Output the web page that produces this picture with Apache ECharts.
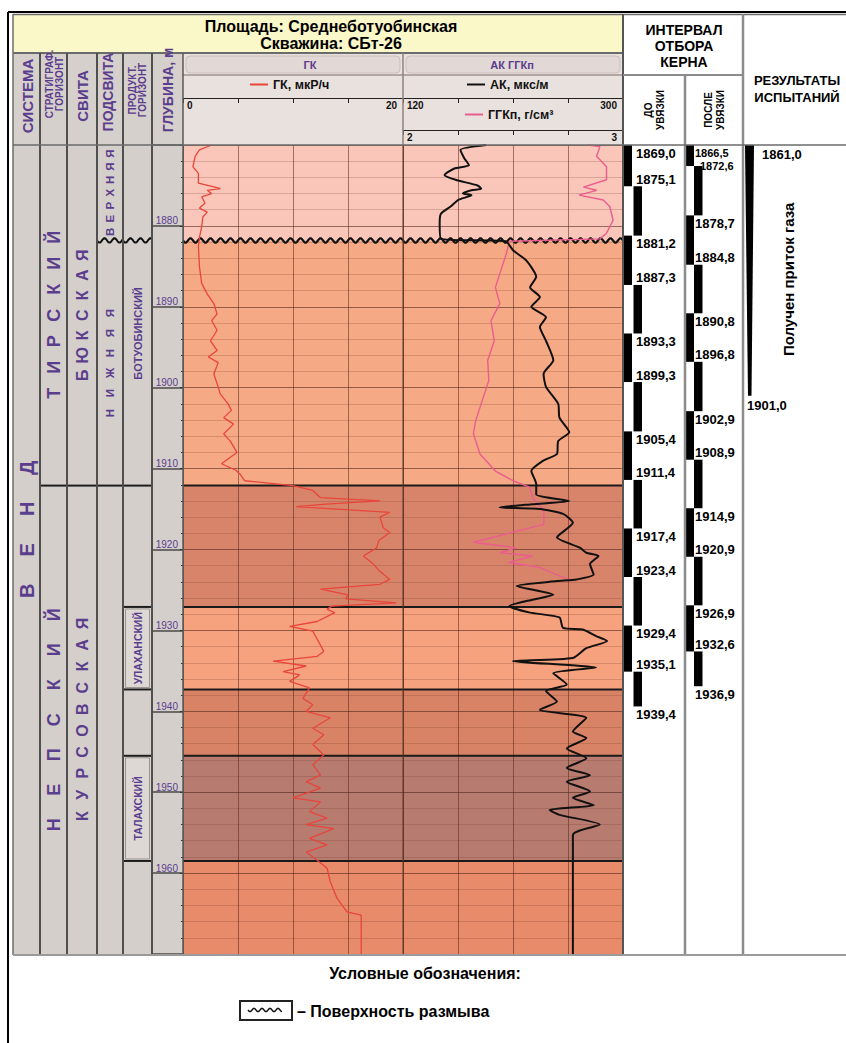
<!DOCTYPE html>
<html><head><meta charset="utf-8">
<script src="https://cdn.jsdelivr.net/npm/echarts@6/dist/echarts.min.js"></script>
<style>html,body{margin:0;padding:0;background:#fff}#c{width:846px;height:1043px}</style>
</head><body><div id="c"></div>
<script>
// ---------------- DATA ----------------
const depthMin = 1870, depthMax = 1970;

const gkDepth = [1870.0,1870.6,1871.4,1872.7,1873.5,1874.7,1875.2,1875.4,1875.6,1876.0,1876.4,1877.2,1877.8,1878.3,1878.9,1880.1,1881.4,1882.6,1885.1,1887.1,1888.4,1889.6,1890.9,1891.7,1892.9,1894.2,1895.4,1896.2,1896.9,1898.3,1899.5,1900.8,1902.0,1902.8,1903.7,1904.5,1905.7,1906.6,1908.0,1909.4,1910.2,1910.7,1911.5,1912.1,1912.7,1913.6,1914.0,1914.4,1914.7,1915.0,1915.4,1916.0,1917.3,1917.9,1918.9,1919.8,1920.8,1921.8,1922.7,1923.7,1924.3,1924.9,1925.6,1926.1,1926.6,1927.0,1927.4,1927.8,1928.9,1929.5,1930.1,1931.1,1932.6,1933.2,1933.8,1934.4,1935.1,1935.5,1936.3,1937.1,1938.4,1939.2,1940.0,1940.8,1942.1,1942.9,1944.1,1945.4,1946.6,1947.9,1948.7,1949.5,1950.7,1951.2,1952.4,1953.2,1954.0,1954.5,1955.7,1956.5,1957.4,1958.4,1959.4,1961.1,1963.1,1964.8,1965.2,1970.0];
const gkValue = [2.6,1.5,1.1,0.9,1.4,1.4,2.9,3.4,2.2,2.6,1.7,2.0,1.5,2.2,1.8,1.7,1.5,1.4,1.5,1.7,2.2,2.8,3.1,2.6,3.1,2.5,3.1,2.3,3.2,2.8,3.1,3.4,4.1,4.4,3.7,4.6,3.7,4.3,4.9,3.5,4.8,5.2,5.6,10.0,11.8,12.5,17.9,13.0,10.3,14.0,18.8,17.9,18.2,18.8,17.8,17.6,16.4,17.3,17.9,18.8,17.9,12.5,15.0,14.8,19.4,13.5,13.1,13.8,12.2,9.7,11.8,12.2,12.8,12.2,8.2,11.2,9.1,10.6,9.7,11.5,10.9,11.8,11.2,13.4,11.8,12.8,11.8,12.8,11.8,12.5,11.2,12.5,10.0,12.5,11.5,13.1,11.2,13.7,11.5,13.1,11.2,12.2,13.1,13.4,14.0,14.9,16.2,16.2];

const akDepth = [1870.0,1870.6,1871.6,1872.5,1872.9,1873.7,1874.3,1875.0,1875.4,1875.6,1876.0,1876.2,1876.8,1877.6,1878.5,1879.7,1881.6,1881.9,1883.0,1884.3,1886.3,1887.6,1888.8,1890.0,1891.3,1892.5,1894.2,1896.6,1898.3,1899.9,1902.0,1903.7,1905.5,1906.6,1908.2,1909.0,1910.3,1911.9,1913.2,1914.0,1914.4,1914.8,1915.0,1915.6,1916.7,1918.5,1919.8,1920.4,1920.8,1921.8,1923.1,1923.7,1923.9,1924.5,1925.6,1926.2,1927.0,1927.8,1928.4,1929.7,1929.9,1930.7,1931.3,1932.2,1933.4,1933.8,1934.6,1935.3,1936.7,1937.5,1938.8,1939.8,1940.8,1942.5,1943.3,1944.6,1945.8,1947.0,1947.9,1948.7,1949.9,1950.7,1951.6,1952.2,1952.8,1954.0,1955.3,1970.0];
const akValue = [188,167,170,174,162,154,163,181,184,176,169,176,165,159,151,150,151,204,210,221,229,224,232,225,237,232,237,243,235,237,247,248,256,247,246,235,225,229,229,256,226,199,232,251,259,246,265,270,280,273,276,262,246,213,243,226,207,224,248,251,267,278,287,270,259,210,278,243,254,237,246,232,270,259,270,254,270,254,273,254,273,259,276,240,248,281,259,259];

const ggkDepth = [1870.0,1870.2,1871.4,1872.7,1874.3,1875.2,1875.6,1876.2,1876.8,1877.6,1879.3,1880.9,1881.6,1881.9,1883.4,1885.9,1887.6,1889.6,1891.7,1894.2,1896.6,1899.1,1901.6,1904.1,1905.7,1908.2,1910.3,1911.5,1912.3,1913.6,1915.2,1916.9,1919.1,1919.8,1920.4,1920.8,1921.6,1922.2,1923.9];
const ggkValue = [2.84,2.895,2.88,2.925,2.925,2.82,2.88,2.80,2.91,2.94,2.955,2.925,2.895,2.484,2.47,2.44,2.42,2.44,2.40,2.415,2.385,2.39,2.36,2.33,2.32,2.35,2.42,2.50,2.575,2.59,2.64,2.64,2.32,2.515,2.44,2.59,2.48,2.62,2.77];

const layerBounds = [1870, 1881.8, 1912.1, 1927.1, 1937.3, 1945.5, 1958.5, 1970];
const erosionDepth = 1881.8;

const coreBefore = [1869.0,1875.1,1881.2,1887.3,1893.3,1899.3,1905.4,1911.4,1917.4,1923.4,1929.4,1935.1,1939.4];
const coreAfter  = [1866.5,1872.6,1878.7,1884.8,1890.8,1896.8,1902.9,1908.9,1914.9,1920.9,1926.9,1932.6,1936.9];
const testTop = 1861.0, testBottom = 1901.0;
const testText = 'Получен приток газа';

const sistemaNames = ['ВЕНД'];
const sistemaBounds = [1865, 1970];
const horizonNames = ['ТИРСКИЙ', 'НЕПСКИЙ'];
const horizonBounds = [1870, 1912.1, 1970];
const svitaNames = ['БЮКСКАЯ', 'КУРСОВСКАЯ'];
const svitaBounds = [1870, 1912.1, 1970];
const podsvitaNames = ['ВЕРХНЯЯ', 'НИЖНЯЯ', ''];
const podsvitaBounds = [1870, 1881.8, 1912.1, 1970];
const produktNames = ['', 'БОТУОБИНСКИЙ', '', 'УЛАХАНСКИЙ', '', 'ТАЛАХСКИЙ', ''];
const produktBounds = [1870, 1881.8, 1912.1, 1927.1, 1937.3, 1945.5, 1958.5, 1970];
const produktLabelAt = [null, 1893.3, null, null, null, null, null];

// ---------------- STYLE ----------------
const FONT = '"Liberation Sans", Arial, Helvetica, sans-serif';
const PURPLE = '#5b3d8e';
const layerColors = ['#f9c6b9','#f6a985','#d8846b','#f6a27e','#d98366','#b77b70','#e88b6b'];
const TOP = 145, HGT = 809;
const cols = [
  {left:13,width:27},{left:40,width:27},{left:67,width:30},{left:97,width:26},{left:123,width:29},
  {left:152,width:31},{left:183,width:220},{left:403,width:220},{left:623,width:62},{left:685,width:58},{left:743,width:103}
];

function fmt(v){ return v.toFixed(1).replace('.', ','); }
function wave(x0, x1, y, amp, period, w){
  const pts = [];
  for (let x = x0; x <= x1 + 0.01; x += 1) pts.push([x, y + amp * Math.sin(2 * Math.PI * (x - x0) / period)]);
  return {type:'polyline', shape:{points:pts}, style:{stroke:'#111', lineWidth:w, fill:null}};
}

function unitSeries(gi, names, bounds, st){
  return {
    type:'custom', xAxisIndex:gi, yAxisIndex:gi, z:1, silent:true, clip:false,
    data: names.map((n,i)=>[0.5, bounds[i], bounds[i+1], i]),
    renderItem(params, api){
      const cs = params.coordSys;
      const i = api.value(3);
      const yA = api.coord([0.5, api.value(1)])[1], yB = api.coord([0.5, api.value(2)])[1];
      const v0 = Math.max(yA, cs.y), v1 = Math.min(yB, cs.y + cs.height);
      const ch = [];
      const boxed = st.boxed && st.boxed[i];
      ch.push({type:'rect', shape:{x:cs.x, y:v0, width:cs.width, height:v1 - v0}, style:{fill: boxed ? '#ddd8d4' : '#d4cfcb'}});
      if (boxed) ch.push({type:'rect', shape:{x:cs.x + 2.5, y:v0 + 2, width:cs.width - 5, height:v1 - v0 - 4}, style:{fill:'none', stroke:'#9a938f', lineWidth:1}});
      if (yA > cs.y + 1) {
        if (Math.abs(api.value(1) - erosionDepth) < 1e-6) ch.push(wave(cs.x, cs.x + cs.width, yA, 2.2, 10, 2));
        else ch.push({type:'line', shape:{x1:cs.x, y1:yA, x2:cs.x + cs.width, y2:yA}, style:{stroke:'#1e1e1e', lineWidth:2}});
      }
      const name = names[i];
      if (name) {
        const at = st.at && st.at[i] != null ? api.coord([0.5, st.at[i]])[1] : (yA + yB) / 2;
        const fs = st.font[i], pitch = st.pitch[i];
        const cx = cs.x + cs.width / 2;
        const font = 'bold ' + fs + 'px ' + FONT;
        if (pitch > 0) {
          const n = name.length;
          for (let k = 0; k < n; k++) {
            ch.push({type:'text', x:cx, y: at + (n - 1) / 2 * pitch - k * pitch, rotation: Math.PI / 2,
              style:{text:name[k], x:0, y:0, align:'center', verticalAlign:'middle', fill:PURPLE, font}});
          }
        } else {
          ch.push({type:'text', x:cx, y:at, rotation:Math.PI / 2,
            style:{text:name, x:0, y:0, align:'center', verticalAlign:'middle', fill:PURPLE, font}});
        }
      }
      return {type:'group', children: ch};
    }
  };
}

function bandSeries(gi, xi){
  return {
    type:'custom', xAxisIndex:xi, yAxisIndex:gi, z:-5, silent:true, clip:false,
    data: layerColors.map((c,i)=>[0, layerBounds[i], layerBounds[i+1], i]),
    renderItem(params, api){
      const cs = params.coordSys;
      const y0 = Math.max(api.coord([0, api.value(1)])[1], cs.y);
      const y1 = Math.min(api.coord([0, api.value(2)])[1], cs.y + cs.height);
      return {type:'rect', shape:{x:cs.x, y:y0, width:cs.width, height:y1 - y0}, style:{fill: layerColors[api.value(3)]}};
    }
  };
}
function boundarySeries(gi, xi){
  return {
    type:'custom', xAxisIndex:xi, yAxisIndex:gi, z:2, silent:true, clip:false,
    data: layerBounds.slice(1, -1).map(b=>[0, b]),
    renderItem(params, api){
      const cs = params.coordSys;
      const y = api.coord([0, api.value(1)])[1];
      if (Math.abs(api.value(1) - erosionDepth) < 1e-6) return wave(cs.x, cs.x + cs.width, y, 2.2, 10, 2.2);
      return {type:'line', shape:{x1:cs.x, y1:y, x2:cs.x + cs.width, y2:y}, style:{stroke:'#1a1a1a', lineWidth:2}};
    }
  };
}

function coreBars(gi, bounds, bx){
  return {
    type:'custom', xAxisIndex:gi, yAxisIndex:gi, z:2, silent:true, clip:false,
    data: bounds.slice(0, -1).map((b,i)=>[0.5, b, bounds[i+1], i]),
    renderItem(params, api){
      const cs = params.coordSys;
      const i = api.value(3);
      const y0 = Math.max(api.coord([0.5, api.value(1)])[1], cs.y);
      const y1 = Math.min(api.coord([0.5, api.value(2)])[1], cs.y + cs.height);
      return {type:'rect', shape:{x:cs.x + bx[i % 2], y:y0, width:8.5, height:y1 - y0}, style:{fill:'#000'}};
    }
  };
}
function coreLabels(gi, bounds, lx){
  return {
    type:'custom', xAxisIndex:gi, yAxisIndex:gi, z:3, silent:true, clip:false,
    data: bounds.map((b,i)=>[0.5, b, i]),
    renderItem(params, api){
      const cs = params.coordSys;
      const i = api.value(2);
      const ys = bounds.map((b,k)=>Math.max(api.coord([0.5, b])[1] + (k % 2 === 0 ? 8 : -7), cs.y + 8));
      const fs = bounds.map(()=>13), dx = bounds.map(()=>0);
      for (let k = 1; k < ys.length; k++) if (ys[k] - ys[k-1] < 13) {
        ys[k] = Math.max(api.coord([0.5, bounds[k]])[1], ys[k-1] + 11); fs[k] = 11; fs[k-1] = 11; dx[k] = 5;
      }
      return {type:'text', x:cs.x + lx + dx[i], y:ys[i],
        style:{text:fmt(bounds[i]), x:0, y:0, align:'left', verticalAlign:'middle', fill:'#000', font:'bold ' + fs[i] + 'px ' + FONT}};
    }
  };
}
function testSeries(gi){
  return {
    type:'custom', xAxisIndex:gi, yAxisIndex:gi, z:2, silent:true, clip:false,
    data: [[0.5, testTop, testBottom]],
    renderItem(params, api){
      const cs = params.coordSys;
      const yT = api.coord([0.5, api.value(1)])[1], yB = api.coord([0.5, api.value(2)])[1];
      const y0 = Math.max(yT, cs.y);
      const x = cs.x + 2;
      return {type:'group', children:[
        {type:'polygon', shape:{points:[[x, y0],[x + 9, y0],[x + 6.5, yB],[x + 3, yB]]}, style:{fill:'#000'}},
        {type:'text', x:cs.x + 19, y:y0 + 9, style:{text:fmt(api.value(1)), x:0, y:0, align:'left', verticalAlign:'middle', fill:'#000', font:'bold 13px ' + FONT}},
        {type:'text', x:cs.x + 4, y:yB + 10, style:{text:fmt(api.value(2)), x:0, y:0, align:'left', verticalAlign:'middle', fill:'#000', font:'bold 13px ' + FONT}},
        {type:'text', x:cs.x + 45, y:(y0 + yB) / 2 + 9, rotation:Math.PI / 2, style:{text:testText, x:0, y:0, align:'center', verticalAlign:'middle', fill:'#000', font:'bold 15px ' + FONT}}
      ]};
    }
  };
}

// ---------------- AXES ----------------
const grid = cols.map(c=>({left:c.left, width:c.width, top:TOP, height:HGT}));
const xAxis = cols.map((c,i)=>({gridIndex:i, type:'value', min:0, max:1, show:false}));
const minMaxFmt = (a, b) => v => Math.abs(v - a) < 1e-9 ? '{l|' + v + '}' : (Math.abs(v - b) < 1e-9 ? '{r|' + v + '}' : '');
const scaleLabel = (a, b) => ({show:true, inside:true, margin:2, formatter:minMaxFmt(a,b), alignMinLabel:'left', alignMaxLabel:'right',
  color:'#111', fontWeight:'bold', fontSize:10, fontFamily:FONT,
  rich:{l:{padding:[0,0,0,4], fontWeight:'bold', fontSize:10, fontFamily:FONT, color:'#111'}, r:{padding:[0,6,0,0], fontWeight:'bold', fontSize:10, fontFamily:FONT, color:'#111'}}});
xAxis[6] = {gridIndex:6, type:'value', min:0, max:20, interval:5, position:'top', offset:47,
  axisLine:{show:true, onZero:false, lineStyle:{color:'#222', width:1.2}},
  axisTick:{show:true, inside:true, length:5, lineStyle:{color:'#222'}},
  axisLabel:scaleLabel(0,20),
  splitLine:{show:true, lineStyle:{color:'rgba(90,40,25,0.55)', width:1}}};
xAxis[7] = {gridIndex:7, type:'value', min:2, max:3, interval:0.25, position:'top', offset:15,
  axisLine:{show:true, onZero:false, lineStyle:{color:'#222', width:1.2}},
  axisTick:{show:true, inside:true, length:5, lineStyle:{color:'#222'}},
  axisLabel:scaleLabel(2,3),
  splitLine:{show:true, lineStyle:{color:'rgba(90,40,25,0.55)', width:1}}};
xAxis.push({gridIndex:7, type:'value', min:120, max:300, position:'top', offset:47,
  axisLine:{show:false}, axisTick:{show:false}, splitLine:{show:false},
  axisLabel:scaleLabel(120,300)}); // 11 AK
xAxis.push({gridIndex:7, type:'value', min:2, max:3, interval:0.25, position:'top', offset:47,
  axisLine:{show:true, onZero:false, lineStyle:{color:'#222', width:1.2}},
  axisTick:{show:true, inside:true, length:5, lineStyle:{color:'#222'}},
  axisLabel:{show:false}, splitLine:{show:false}}); // 12 AK scale ticks

const yAxis = cols.map((c,i)=>({gridIndex:i, type:'value', min:depthMin, max:depthMax, inverse:true, show:false}));
[6,7].forEach(i=>{
  yAxis[i] = {gridIndex:i, type:'value', min:depthMin, max:depthMax, inverse:true, interval:10, show:true,
    axisLine:{show:false}, axisTick:{show:false}, axisLabel:{show:false},
    splitLine:{show:true, lineStyle:{color:'rgba(70,30,20,0.55)', width:1}},
    minorTick:{show:false, splitNumber:5},
    minorSplitLine:{show:true, lineStyle:{color:'rgba(110,50,30,0.22)', width:1}}};
});
yAxis[5] = {gridIndex:5, type:'value', min:depthMin, max:depthMax, inverse:true, interval:10, position:'right',
  axisLine:{show:true, onZero:false, lineStyle:{color:'#555', width:1}},
  axisTick:{show:true, inside:true, length:3, lineStyle:{color:'#333'}},
  minorTick:{show:true, splitNumber:5, length:2, lineStyle:{color:'#333'}},
  axisLabel:{show:true, inside:true, margin:5, verticalAlign:'bottom', showMinLabel:false, showMaxLabel:false,
    formatter:v=>String(v), color:PURPLE, fontSize:10, fontFamily:FONT},
  splitLine:{show:true, lineStyle:{color:'#4a4a4a', width:1.5}}};

// ---------------- GRAPHIC (frame & headers) ----------------
const G = [];
const L = (x1,y1,x2,y2,c,w)=>G.push({type:'line', shape:{x1,y1,x2,y2}, style:{stroke:c, lineWidth:w}, z:20, silent:true});
const R = (x,y,w,h,fill,stroke,r)=>G.push({type:'rect', shape:{x,y,width:w,height:h,r:r||0}, style:{fill, stroke:stroke||null, lineWidth:1}, z:-10, silent:true});
const T = (x,y,text,size,color,opt)=>G.push(Object.assign({type:'text', x, y, rotation:(opt&&opt.rot)||0, z:30, silent:true,
  style:{text, x:0, y:0, align:(opt&&opt.align)||'center', verticalAlign:'middle', fill:color, font:'bold ' + size + 'px ' + FONT, lineHeight:(opt&&opt.lh)||undefined}}));

R(13,15,610,38,'#faf7c9');
R(13,53,170,92,'#d6d0cc');
R(183,53,440,92,'#e9e1de');
R(186,56,214,17,'#e2d8d5','#cbbfbb',4);
R(406,56,214,17,'#e2d8d5','#cbbfbb',4);
R(152,145,31,809,'#d4cfcb');

L(8,12,846,12,'#000',2);
L(8,12,8,1043,'#000',2);
L(13,14,13,955,'#6d6d6d',1.5);
L(13,14.5,846,14.5,'#6d6d6d',1.5);
L(13,53,623,53,'#6b6b6b',2);
L(183,75,623,75,'#a0918d',1.5);
L(403,53,403,145,'#8e827f',1.5);
[40,67,97,123,152].forEach(x=>L(x,53,x,954,'#4f4f4f',2));
L(183,53,183,954,'#5a5a5a',1.5);
L(403,145,403,954,'#5a3a2a',1);
L(623,14,623,955,'#555',2);
L(623,75,743,75,'#8c8c8c',2);
L(685,75,685,955,'#8c8c8c',2.5);
L(743,14,743,955,'#8c8c8c',2.5);
L(13,145,846,145,'#6b6b6b',1.5);
L(13,955,846,955,'#9a9a9a',2);

T(331,26,'Площадь: Среднеботуобинская',16,'#000');
T(331,43,'Скважина: СБт-26',16,'#000');
T(27,96,'СИСТЕМА',15,PURPLE,{rot:Math.PI/2});
T(54,84,'СТРАТИГРАФ.\nГОРИЗОНТ',10,PURPLE,{rot:Math.PI/2, lh:10});
T(82,96,'СВИТА',15,PURPLE,{rot:Math.PI/2});
T(108,92,'ПОДСВИТА',14,PURPLE,{rot:Math.PI/2});
T(137,90,'ПРОДУКТ.\nГОРИЗОНТ',10,PURPLE,{rot:Math.PI/2, lh:10});
T(168,90,'ГЛУБИНА, м',14,PURPLE,{rot:Math.PI/2});
T(310,65,'ГК',11,PURPLE);
T(512,65,'АК ГГКп',11,PURPLE);
T(684,30,'ИНТЕРВАЛ',14,'#000');
T(684,46,'ОТБОРА',14,'#000');
T(684,62,'КЕРНА',14,'#000');
T(654,110,'ДО\nУВЯЗКИ',10,'#000',{rot:Math.PI/2, lh:12});
T(714,110,'ПОСЛЕ\nУВЯЗКИ',10,'#000',{rot:Math.PI/2, lh:12});
T(797,80,'РЕЗУЛЬТАТЫ',13,'#000');
T(797,97,'ИСПЫТАНИЙ',13,'#000');
T(425,973,'Условные обозначения:',16,'#000');
G.push({type:'rect', shape:{x:240,y:1001,width:52,height:19}, style:{fill:'#fff', stroke:'#222', lineWidth:2}, z:20, silent:true});
G.push(Object.assign(wave(248,282,1010,1.6,8,1.5), {z:21, silent:true}));
T(297,1011,'– Поверхность размыва',16,'#000',{align:'left'});

// ---------------- SERIES ----------------
const series = [
  unitSeries(0, sistemaNames, sistemaBounds, {font:[20], pitch:[41]}),
  unitSeries(1, horizonNames, horizonBounds, {font:[18,18], pitch:[26,35]}),
  unitSeries(2, svitaNames, svitaBounds, {font:[16,16], pitch:[20,21.4]}),
  unitSeries(3, podsvitaNames, podsvitaBounds, {font:[11.5,11.5,0], pitch:[13,20,0]}),
  unitSeries(4, produktNames, produktBounds, {font:[0,11,0,10.5,0,10.5,0], pitch:[0,0,0,0,0,0,0], boxed:[0,0,0,1,0,1,0], at:produktLabelAt}),
  bandSeries(6, 6), bandSeries(7, 7),
  boundarySeries(6, 6), boundarySeries(7, 7),
  {type:'line', name:'ГК, мкР/ч', xAxisIndex:6, yAxisIndex:6, z:4, showSymbol:false, symbol:'none', silent:true,
   color:'#e8453b', lineStyle:{color:'#e8453b', width:1.3}, data: gkDepth.map((d,i)=>[gkValue[i], d])},
  {type:'line', name:'ГГКп, г/см³', xAxisIndex:7, yAxisIndex:7, z:4, showSymbol:false, symbol:'none', silent:true,
   color:'#ea5d8e', lineStyle:{color:'#ea5d8e', width:1.4}, data: ggkDepth.map((d,i)=>[ggkValue[i], d])},
  {type:'line', name:'АК, мкс/м', xAxisIndex:11, yAxisIndex:7, z:5, showSymbol:false, symbol:'none', silent:true, smooth:0.2,
   color:'#111', lineStyle:{color:'#111', width:2}, data: akDepth.map((d,i)=>[akValue[i], d])},
  coreBars(8, coreBefore, [0.5, 10.5]), coreLabels(8, coreBefore, 13),
  coreBars(9, coreAfter, [0.5, 9]), coreLabels(9, coreAfter, 10),
  testSeries(10)
];

const legendBase = {orient:'horizontal', icon:'rect', itemWidth:18, itemHeight:2, itemGap:4, padding:0, selectedMode:false,
  textStyle:{fontWeight:'bold', fontSize:12.5, color:'#111', fontFamily:FONT}};
const legend = [
  Object.assign({}, legendBase, {data:['ГК, мкР/ч'], left:250, top:78}),
  Object.assign({}, legendBase, {data:['АК, мкс/м'], left:467, top:78}),
  Object.assign({}, legendBase, {data:['ГГКп, г/см³'], left:465, top:108})
];

const chart = echarts.init(document.getElementById('c'), null, {renderer:'svg', width:846, height:1043});
chart.setOption({animation:false, backgroundColor:'#fff', grid, xAxis, yAxis, series, legend, graphic:{elements:G}});
</script></body></html>
